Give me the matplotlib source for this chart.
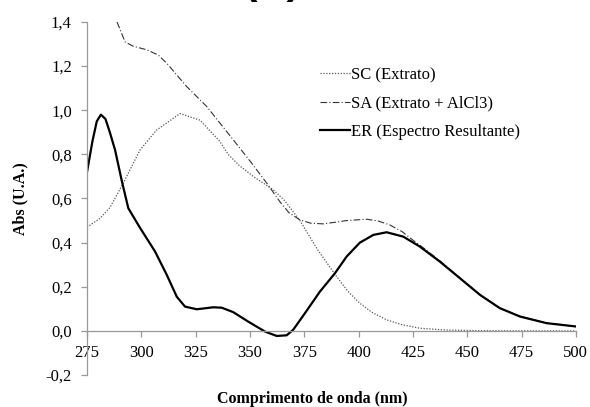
import numpy as np
import matplotlib
matplotlib.use('Agg')
import matplotlib.pyplot as plt

# ── data (wavelength nm, absorbance) ────────────────────────────────────────
sc_nm  = [275, 281, 285.6, 291.7, 299.4, 307, 317.8, 327, 336, 340, 345, 351.5,
          360.7, 366, 373, 381, 389.9, 395, 400.6, 406, 412.9, 420, 428.2,
          440, 455, 475, 500]
sc_abs = [0.47, 0.51, 0.56, 0.67, 0.82, 0.91, 0.985, 0.955, 0.86, 0.80, 0.75, 0.70,
          0.64, 0.59, 0.50, 0.37, 0.246, 0.18, 0.125, 0.085, 0.05, 0.028, 0.012,
          0.004, 0.001, 0.0, 0.0]

sa_nm  = [288.8, 292.5, 296.3, 302.5, 307.8, 311.7, 320.9, 330.1, 342.3, 350,
          357.7, 363.8, 368, 373, 378, 383.7, 389, 394.5, 403.7, 409, 414.4, 420,
          425.2, 430, 437.4, 446.6, 455.9, 465, 474.3, 486.5, 500]
sa_abs = [1.40, 1.31, 1.29, 1.274, 1.25, 1.213, 1.107, 1.017, 0.866, 0.77,
          0.67, 0.585, 0.535, 0.503, 0.488, 0.485, 0.492, 0.50, 0.506, 0.498, 0.48, 0.45,
          0.41, 0.375, 0.318, 0.241, 0.164, 0.104, 0.066, 0.036, 0.02]

er_nm  = [275, 277.5, 279.5, 281.4, 283.5, 285.5, 287.9, 291, 294, 299.4, 306.3,
          311.7, 316.3, 320.1, 325.5, 329, 333.1, 337, 342.3, 349.2, 356.9, 362.3,
          366.9, 369.9, 375.3, 382.2, 389.1, 394.5, 400.6, 406.8, 412.9, 420.6,
          428.2, 437.4, 446.6, 455.9, 465, 474.3, 486.5, 500]
er_abs = [0.72, 0.86, 0.95, 0.98, 0.96, 0.90, 0.82, 0.68, 0.556, 0.467, 0.36,
          0.254, 0.155, 0.11, 0.098, 0.102, 0.107, 0.105, 0.085, 0.042, -0.003, -0.023,
          -0.02, 0.005, 0.08, 0.178, 0.261, 0.337, 0.40, 0.435, 0.447, 0.427,
          0.382, 0.314, 0.239, 0.163, 0.103, 0.065, 0.035, 0.02]

labels = ['SC (Extrato)', 'SA (Extrato + AlCl3)', 'ER (Espectro Resultante)']
x_ticks = [275, 300, 325, 350, 375, 400, 425, 450, 475, 500]
y_ticks = [-0.2, 0.0, 0.2, 0.4, 0.6, 0.8, 1.0, 1.2, 1.4]

plt.rcParams['font.family'] = ['Liberation Serif', 'DejaVu Serif']
plt.rcParams['font.size'] = 12

fig = plt.figure(figsize=(5.9, 4.07), dpi=100)
ax = fig.add_axes([0.1475, 0.0786, 0.8285, 0.8674])

ax.plot(sc_nm, sc_abs, color='#555555', lw=0.9, ls=(0, (1, 1.3)), label=labels[0])
ax.plot(sa_nm, sa_abs, color='#333333', lw=0.8, ls=(0, (6, 2, 1, 2)), label=labels[1])
ax.plot(er_nm, er_abs, color='black', lw=1.6, label=labels[2])

ax.set_xlim(275, 500)
ax.set_ylim(-0.2, 1.4)
ax.set_xticks(x_ticks)
ax.set_yticks(y_ticks)
ax.set_yticklabels([f'{v:.1f}'.replace('.', ',') for v in y_ticks])

for side in ['top', 'right']:
    ax.spines[side].set_visible(False)
ax.spines['bottom'].set_position(('data', 0))
for side in ['left', 'bottom']:
    ax.spines[side].set_color('#999999')
    ax.spines[side].set_linewidth(0.9)
ax.tick_params(axis='both', direction='out', length=4, color='#999999', width=0.9,
               labelsize=12)
ax.tick_params(axis='x', pad=6)
ax.tick_params(axis='y', pad=7)

ax.set_xlabel('Comprimento de onda (nm)', fontweight='bold', fontsize=11.5)
ax.xaxis.set_label_coords(0.46, -0.045)
ax.set_ylabel('Abs (U.A.)', fontweight='bold', fontsize=11.5)
ax.yaxis.set_label_coords(-0.12, 0.5)

ax.legend(loc='upper left', bbox_to_anchor=(0.445, 0.915), frameon=False,
          handlelength=1.8, handletextpad=0.1, labelspacing=0.75, fontsize=12)

# clipped panel title at the very top of the picture
fig.text(0.413, 1.015, '(A)', ha='left', va='baseline', fontsize=29,
         fontweight='bold', family='Liberation Sans')

fig.savefig('out.png', dpi=100)
